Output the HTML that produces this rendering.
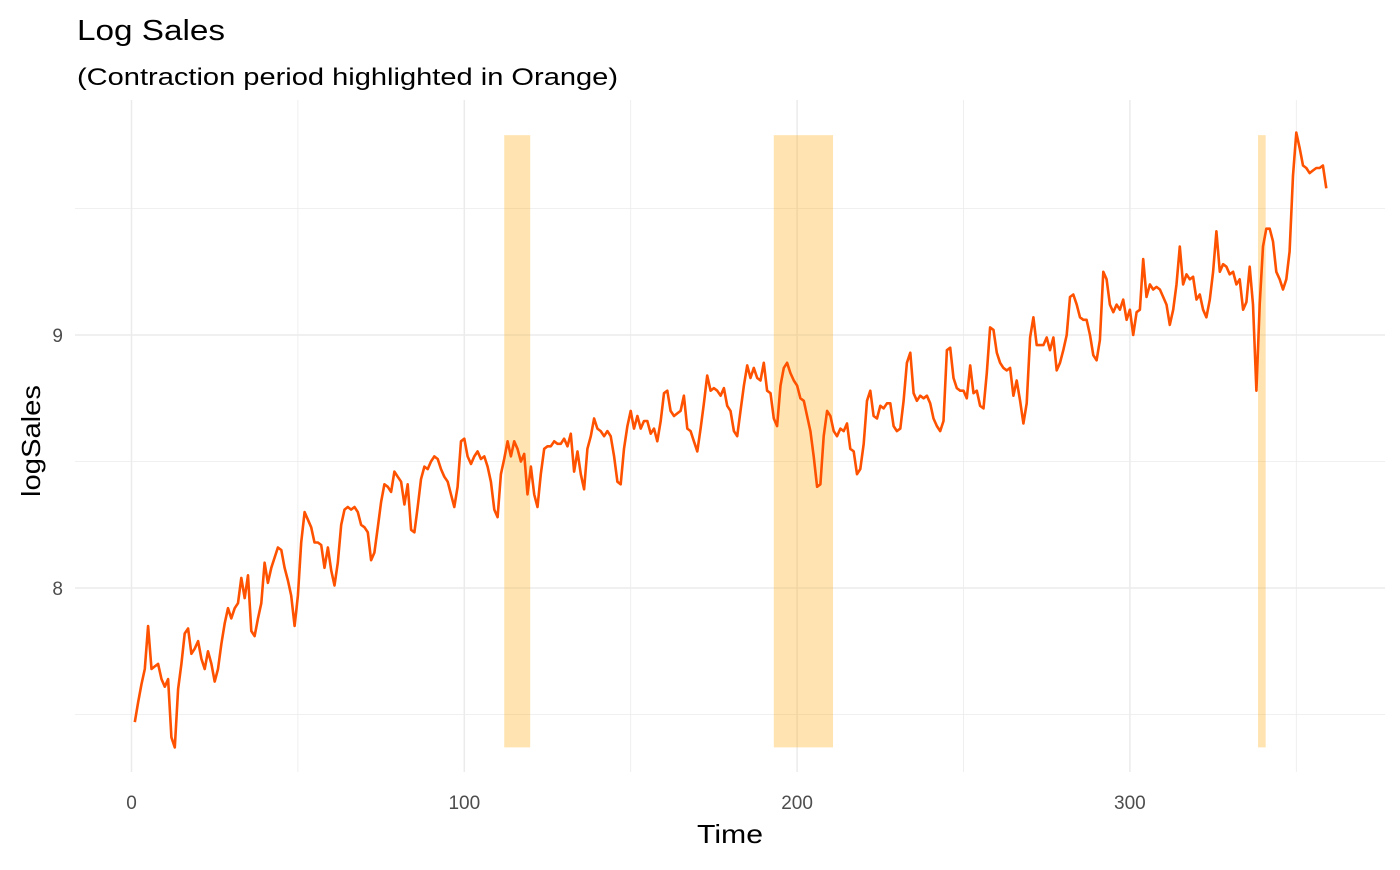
<!DOCTYPE html>
<html><head><meta charset="utf-8"><style>
body{margin:0;background:#fff;font-family:"Liberation Sans",Arial,sans-serif}
svg text{font-family:"Liberation Sans",Arial,sans-serif}
</style></head><body>
<svg id="chart" width="1400" height="865" viewBox="0 0 1400 865">
<text x="77" y="40" font-size="29" textLength="148" lengthAdjust="spacingAndGlyphs" fill="#000">Log Sales</text>
<text x="77" y="85" font-size="24" textLength="541" lengthAdjust="spacingAndGlyphs" fill="#000">(Contraction period highlighted in Orange)</text>
<g id="grid"></g>
<g id="bands"></g>
<path id="line" fill="none" stroke="#ff5200" stroke-width="2.6" stroke-linejoin="round"/>
<g id="ticks"></g>
<text x="730" y="843" font-size="26" textLength="66" lengthAdjust="spacingAndGlyphs" text-anchor="middle" fill="#000">Time</text>
<text transform="translate(40,441) rotate(-90)" font-size="26" textLength="112" lengthAdjust="spacingAndGlyphs" text-anchor="middle" fill="#000">logSales</text>
</svg>
<script>
const logSales = [7.47,7.55,7.62,7.68,7.85,7.68,7.69,7.70,7.64,7.61,7.64,7.41,7.37,7.60,7.70,7.82,7.84,7.74,7.76,7.79,7.72,7.68,7.75,7.70,7.63,7.68,7.78,7.86,7.92,7.88,7.92,7.94,8.04,7.96,8.05,7.83,7.81,7.88,7.94,8.10,8.02,8.08,8.12,8.16,8.15,8.08,8.03,7.97,7.85,7.97,8.18,8.30,8.27,8.24,8.18,8.18,8.17,8.08,8.16,8.07,8.01,8.10,8.25,8.31,8.32,8.31,8.32,8.30,8.25,8.24,8.22,8.11,8.14,8.24,8.34,8.41,8.40,8.38,8.46,8.44,8.42,8.33,8.41,8.23,8.22,8.32,8.43,8.48,8.47,8.50,8.52,8.51,8.47,8.44,8.42,8.37,8.32,8.40,8.58,8.59,8.52,8.49,8.52,8.54,8.51,8.52,8.48,8.42,8.31,8.28,8.45,8.51,8.58,8.52,8.58,8.55,8.50,8.53,8.37,8.48,8.37,8.32,8.45,8.55,8.56,8.56,8.58,8.57,8.57,8.59,8.56,8.61,8.46,8.54,8.45,8.39,8.55,8.60,8.67,8.63,8.62,8.60,8.62,8.60,8.52,8.42,8.41,8.55,8.64,8.70,8.63,8.68,8.63,8.66,8.66,8.61,8.63,8.58,8.66,8.77,8.78,8.70,8.68,8.69,8.70,8.76,8.63,8.62,8.58,8.54,8.63,8.73,8.84,8.78,8.79,8.78,8.76,8.79,8.72,8.70,8.62,8.60,8.70,8.80,8.88,8.83,8.87,8.83,8.82,8.89,8.78,8.77,8.67,8.64,8.80,8.87,8.89,8.85,8.82,8.80,8.75,8.74,8.68,8.62,8.52,8.40,8.41,8.60,8.70,8.68,8.62,8.60,8.63,8.62,8.65,8.55,8.54,8.45,8.47,8.57,8.74,8.78,8.68,8.67,8.72,8.71,8.73,8.73,8.64,8.62,8.63,8.74,8.89,8.93,8.77,8.74,8.76,8.75,8.76,8.73,8.67,8.64,8.62,8.66,8.94,8.95,8.83,8.79,8.78,8.78,8.75,8.88,8.77,8.78,8.72,8.71,8.85,9.03,9.02,8.93,8.89,8.87,8.86,8.87,8.76,8.82,8.74,8.65,8.73,8.99,9.07,8.96,8.96,8.96,8.99,8.94,8.99,8.86,8.89,8.94,9.00,9.15,9.16,9.12,9.07,9.06,9.06,9.00,8.92,8.90,8.98,9.25,9.22,9.12,9.09,9.12,9.10,9.14,9.06,9.10,9.00,9.09,9.10,9.30,9.15,9.20,9.18,9.19,9.18,9.15,9.12,9.04,9.10,9.20,9.35,9.20,9.24,9.22,9.23,9.14,9.16,9.10,9.07,9.14,9.25,9.41,9.25,9.28,9.27,9.24,9.25,9.20,9.22,9.10,9.13,9.27,9.12,8.78,9.12,9.35,9.42,9.42,9.37,9.25,9.22,9.18,9.22,9.33,9.63,9.80,9.74,9.67,9.66,9.64,9.65,9.66,9.66,9.67,9.58];
const bandStart = [112, 193, 338.5];
const bandEnd = [119.8, 210.8, 340.8];
const xTicks = [0, 100, 200, 300];
const xMinor = [50, 150, 250, 350];
const yTicks = [8, 9];
const yMinor = [7.5, 8.5, 9.5];

const NS = "http://www.w3.org/2000/svg";
const X = t => 131.5 + t * 3.328;
const Y = v => 335 - (v - 9) * 253;
const PL = 75, PR = 1385, PT = 100, PB = 772;
const bandTop = 9.79, bandBot = 7.37;
function mk(tag, attrs, parent) {
  const el = document.createElementNS(NS, tag);
  for (const k in attrs) el.setAttribute(k, attrs[k]);
  parent.appendChild(el);
  return el;
}
const grid = document.getElementById('grid');
xMinor.forEach(t => { const l = mk('line', {x1: X(t), x2: X(t), y1: PT, y2: PB, stroke: '#ebebeb', 'stroke-width': 0.8}, grid);
  
   });
yMinor.forEach(v => { const l = mk('line', {x1: PL, x2: PR, y1: Y(v), y2: Y(v), stroke: '#ebebeb', 'stroke-width': 0.8}, grid);
  
   });
xTicks.forEach(t => { const l = mk('line', {x1: X(t), x2: X(t), y1: PT, y2: PB, stroke: '#ebebeb', 'stroke-width': 1.5}, grid);
  
   });
yTicks.forEach(v => { const l = mk('line', {x1: PL, x2: PR, y1: Y(v), y2: Y(v), stroke: '#ebebeb', 'stroke-width': 1.5}, grid);
  
   });
const bands = document.getElementById('bands');
bandStart.forEach((s, i) => { const r = mk('rect', {x: X(s), y: Y(bandTop), width: X(bandEnd[i]) - X(s), height: Y(bandBot) - Y(bandTop), fill: '#ffa500', 'fill-opacity': 0.3}, bands);
  
   });
document.getElementById('line').setAttribute('d', logSales.map((v, i) => (i ? 'L' : 'M') + X(i + 1).toFixed(1) + ',' + Y(v).toFixed(1)).join(''));
const ticks = document.getElementById('ticks');
xTicks.forEach(t => { const tx = mk('text', {x: X(t), y: 809, 'font-size': 19, 'text-anchor': 'middle', fill: '#4d4d4d'}, ticks);
  tx.textContent = t;
  
   });
yTicks.forEach(v => { const tx = mk('text', {x: 63, y: Y(v) + 7, 'font-size': 19, 'text-anchor': 'end', fill: '#4d4d4d'}, ticks);
  tx.textContent = v;
  
   });
</script>
</body></html>
